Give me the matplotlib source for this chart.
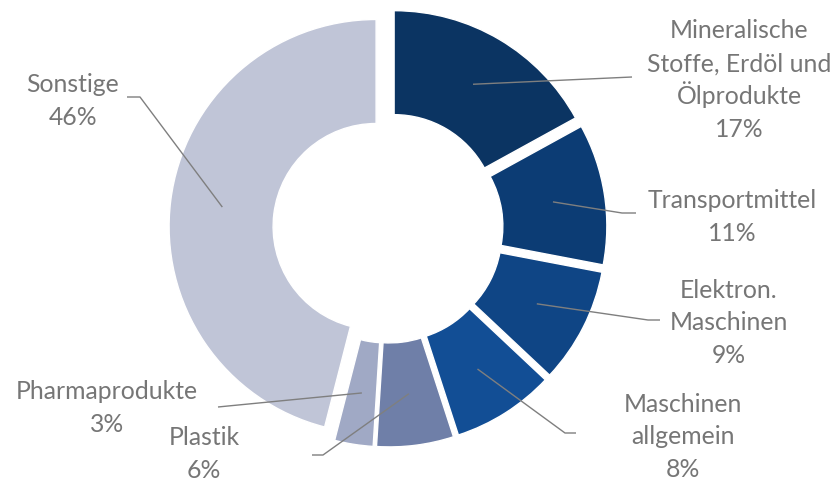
import numpy as np
import matplotlib.pyplot as plt

# Export shares by product group (%)
categories = [
    "Mineralische\nStoffe, Erdöl und\nÖlprodukte",
    "Transportmittel",
    "Elektron.\nMaschinen",
    "Maschinen\nallgemein",
    "Plastik",
    "Pharmaprodukte",
    "Sonstige",
]
shares = [17, 11, 9, 8, 6, 3, 46]
colors = ["#0b3462", "#0c3c74", "#0f4585", "#124e95", "#6f7fa8", "#a0a9c5", "#c0c5d7"]

W, H = 834, 482
fig = plt.figure(figsize=(W / 100, H / 100), dpi=100)
ax = fig.add_axes([0, 0, 1, 1])

cx, cy = 388, H - 228
R, ring = 207, 104
explode_px = 12

wedges, _ = ax.pie(
    shares,
    colors=colors,
    startangle=90,
    counterclock=False,
    radius=R,
    center=(cx, cy),
    explode=[explode_px] * len(shares),
    wedgeprops=dict(width=ring, edgecolor="white", linewidth=1.0),
)

ax.set_xlim(0, W)
ax.set_ylim(0, H)
ax.set_aspect("equal")
ax.axis("off")

# label layout: text block centre, leader elbow, leader end (pixel coords, y down)
text_pos = [(739, 79), (732, 216), (729, 322), (683, 436), (204, 453), (107, 407), (73, 100)]
elbows = [(632, 77), (622, 213), (648, 320), (565, 433), (323, 455), (228, 406), (140, 97)]
ends = [(632, 77), (636, 213), (660, 320), (576, 433), (312, 455), (218, 407), (127, 97)]
line_step = 32.7      # vertical distance between label lines (px)
baseline_shift = 8.5  # baseline sits below the visual line centre (px)

txt_color = "#767676"
line_color = "#7f7f7f"
total = sum(shares)
cum = np.cumsum([0] + shares)
mid_r = R - ring / 2 + explode_px
for i, (name, val) in enumerate(zip(categories, shares)):
    frac_mid = (cum[i] + cum[i + 1]) / 2 / total
    ang = np.deg2rad(90 - 360 * frac_mid)
    sx, sy = cx + mid_r * np.cos(ang), cy + mid_r * np.sin(ang)
    ex, ey = elbows[i]
    fx, fy = ends[i]
    ax.plot([sx, ex, fx], [sy, H - ey, H - fy], color=line_color, lw=1.0,
            solid_capstyle="butt", zorder=5)
    lines = name.split("\n") + [f"{val}%"]
    tx, ty = text_pos[i]
    n = len(lines)
    for k, s in enumerate(lines):
        y_line = ty + (k - (n - 1) / 2) * line_step + baseline_shift
        ax.text(tx, H - y_line, s, ha="center", va="baseline",
                fontsize=17.8, family="Lato", color=txt_color)

fig.savefig("out.png", dpi=100)
